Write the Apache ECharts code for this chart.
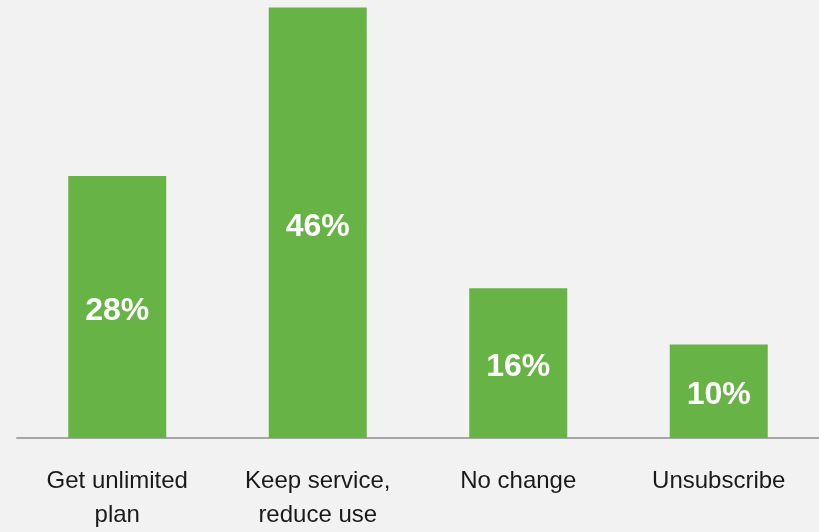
<!DOCTYPE html>
<html>
<head>
<meta charset="utf-8">
<script src="https://cdn.jsdelivr.net/npm/echarts@6/dist/echarts.min.js"></script>
<style>
  html, body { margin: 0; padding: 0; background: #f2f2f2; }
  #chart { width: 819px; height: 532px; }
</style>
</head>
<body>
<div id="chart"></div>
<script>
// Survey responses: share of respondents per action
const categories = ['Get unlimited\nplan', 'Keep service,\nreduce use', 'No change', 'Unsubscribe'];
const shares = [28, 46, 16, 10];

const chart = echarts.init(document.getElementById('chart'), null, { renderer: 'canvas' });
chart.setOption({
  backgroundColor: '#f2f2f2',
  animation: false,
  grid: { left: 17, right: 0, top: 7.5, bottom: 85 },
  xAxis: {
    type: 'category',
    data: categories,
    axisTick: { show: false },
    axisLine: { lineStyle: { color: '#a6a6a6', width: 2 } },
    axisLabel: {
      color: '#1a1a1a',
      fontFamily: '"Liberation Sans Narrow", "Arial Narrow", "Liberation Sans", Arial, sans-serif',
      fontSize: 24,
      lineHeight: 34,
      margin: 26,
      interval: 0
    }
  },
  yAxis: {
    type: 'value',
    min: 0,
    max: 46,
    show: false,
    splitLine: { show: false }
  },
  series: [{
    type: 'bar',
    data: shares,
    barWidth: 98,
    itemStyle: { color: '#67b346' },
    label: {
      show: true,
      position: 'inside',
      offset: [0, 4],
      formatter: '{c}%',
      color: '#ffffff',
      fontWeight: 'bold',
      fontSize: 32,
      fontFamily: '"Liberation Sans", Arial, sans-serif'
    }
  }]
});
</script>
</body>
</html>
